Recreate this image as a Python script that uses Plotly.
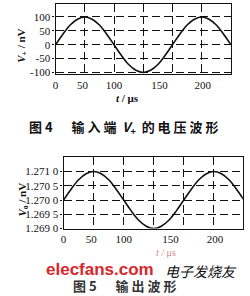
import plotly.graph_objects as go

# ---- data (x in grid units: one dashed grid interval = 50) ----
t = [0, 12.5, 25, 37.5, 50, 62.5, 75, 87.5, 100, 112.5, 125, 137.5, 150,
     162.5, 175, 187.5, 200, 212.5, 225, 237.5, 250, 262.5, 275, 287.5, 300]
v_in = [0, 38, 71, 92, 100, 92, 71, 38, 0, -38, -71, -92, -100,
        -92, -71, -38, 0, 38, 71, 92, 100, 92, 71, 38, 0]
v_out = [1.2700, 1.27038, 1.27071, 1.27092, 1.2710, 1.27092, 1.27071, 1.27038,
         1.2700, 1.26962, 1.26929, 1.26908, 1.2690, 1.26908, 1.26929, 1.26962,
         1.2700, 1.27038, 1.27071, 1.27092, 1.2710, 1.27092, 1.27071, 1.27038, 1.2700]

x_tickvals = [0, 46, 100, 178, 252]
x_ticktext = ["0", "50", "100", "150", "200"]
grid_x = [50, 100, 150, 200, 250]
y1_ticks = [-100, -50, 0, 50, 100]
y1_text = ["-100", "-50", "0", "50", "100"]
y2_ticks = [1.2690, 1.2695, 1.2700, 1.2705, 1.2710]
y2_text = ["1.269 0", "1.269 5", "1.270 0", "1.270 5", "1.271 0"]

W, H = 250, 296
def px(x): return x / W
def py(y): return 1 - y / H

SERIF = "Liberation Serif"
CJK = "Noto Sans CJK SC"
DASH = "8px,4px"

fig = go.Figure()
fig.add_trace(go.Scatter(x=t, y=v_in, mode="lines", line=dict(color="#111", width=1.6, shape="spline"),
                         xaxis="x", yaxis="y", showlegend=False, hoverinfo="skip"))
fig.add_trace(go.Scatter(x=t, y=v_out, mode="lines", line=dict(color="#111", width=1.6, shape="spline"),
                         xaxis="x2", yaxis="y2", showlegend=False, hoverinfo="skip"))

def xaxis(domain, anchor, rmax):
    return dict(domain=domain, anchor=anchor, range=[0, rmax], tickmode="array",
                tickvals=x_tickvals, ticktext=x_ticktext, showgrid=False, zeroline=False,
                showline=True, mirror=True, linecolor="#111", linewidth=1.3,
                ticks="", tickfont=dict(family=SERIF, size=11, color="#111"),
                minor=dict(tickmode="array", tickvals=grid_x, showgrid=True, griddash=DASH,
                           gridcolor="#111", gridwidth=1.3, ticks=""))

def yaxis(domain, anchor, rng, tv, tt):
    return dict(domain=domain, anchor=anchor, range=rng, tickmode="array", tickvals=tv,
                ticktext=tt, showgrid=True, griddash=DASH, gridcolor="#111", gridwidth=1.3,
                zeroline=False, showline=True, mirror=True, linecolor="#111", linewidth=1.3,
                ticks="outside", ticklen=2, tickcolor="#111",
                tickfont=dict(family=SERIF, size=11, color="#111"))

fig.update_layout(
    width=W, height=H, margin=dict(l=0, r=0, t=0, b=0),
    paper_bgcolor="white", plot_bgcolor="white",
    xaxis=xaxis([px(53.2), px(230.7)], "y", 300),
    yaxis=yaxis([py(76), py(4)], "x", [-107, 147], y1_ticks, y1_text),
    xaxis2=xaxis([px(61.3), px(242.7)], "y2", 298),
    yaxis2=yaxis([py(233.3), py(160.7)], "x2", [1.2690, 1.27149], y2_ticks, y2_text),
)

def ann(text, x, y, size, color="#111", family=SERIF, angle=0):
    fig.add_annotation(text=text, x=px(x), y=py(y), xref="paper", yref="paper",
                       showarrow=False, textangle=angle, xanchor="center", yanchor="middle",
                       font=dict(family=family, size=size, color=color))

ann("<b><i>V</i><sub>+</sub> / nV</b>", 19, 47, 11, angle=-90)
ann("<b><i>t</i> / μs</b>", 126, 100, 11)
ann("<b>图 4　  输 入 端  <i>V</i><sub>+</sub>  的 电 压 波 形</b>", 122, 130, 13, family=CJK)
ann("<b><i>V</i><sub>o</sub> / nV</b>", 20, 204, 11, angle=-90)
ann("<i>t</i> / μs", 165, 258, 10, color="#c98a8a")
ann("<b>elecfans.com</b>", 98, 275, 17, color="#d9262b", family="Liberation Sans")
ann("<i>电子发烧友</i>", 200, 277, 14, family=CJK)
ann("<b>图 5　  输 出 波 形</b>", 123, 291, 13, color="#333", family=CJK)

fig.write_html("out.html")
